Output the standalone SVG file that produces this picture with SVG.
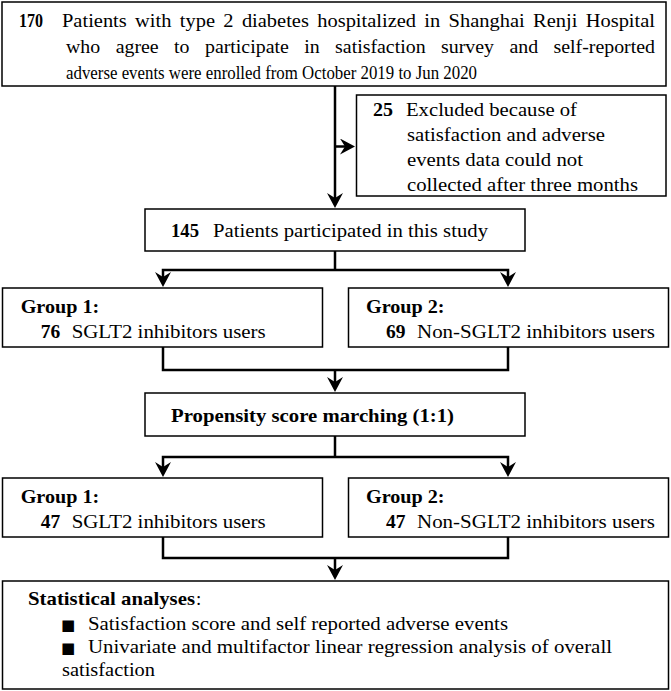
<svg xmlns="http://www.w3.org/2000/svg" width="671" height="691" viewBox="0 0 671 691">
<style>
.box{fill:#fff;stroke:#000;stroke-width:1.5}
.conn{fill:none;stroke:#000;stroke-width:2.5}
.t{font-family:'Liberation Serif','Times New Roman',serif;font-size:19px;fill:#000}
.b{font-weight:bold}
.sq{font-family:'DejaVu Sans',sans-serif;font-size:15px;fill:#000}
</style>
<defs>
<marker id="arr" markerUnits="userSpaceOnUse" markerWidth="15" markerHeight="16" refX="9" refY="8" orient="auto" viewBox="0 0 15 16">
<path d="M0,0 L15,8 L0,16 L5,8 Z" fill="#000"/>
</marker>
</defs>
<rect width="671" height="691" fill="#fff"/>
<g id="connectors">
<path class="conn" d="M335,86 V202" marker-end="url(#arr)"/>
<path class="conn" d="M335,146.5 H349" marker-end="url(#arr)"/>
<path class="conn" d="M335,251 V270"/>
<path class="conn" d="M335,270 H163 V281" marker-end="url(#arr)"/>
<path class="conn" d="M335,270 H508 V281" marker-end="url(#arr)"/>
<path class="conn" d="M163,347 V370 H508 V347"/>
<path class="conn" d="M335,370 V386" marker-end="url(#arr)"/>
<path class="conn" d="M335,436 V457"/>
<path class="conn" d="M335,457 H163 V471" marker-end="url(#arr)"/>
<path class="conn" d="M335,457 H508 V471" marker-end="url(#arr)"/>
<path class="conn" d="M163,537 V558 H508 V537"/>
<path class="conn" d="M335,558 V574" marker-end="url(#arr)"/>
</g>
<g id="enrolled">
<rect class="box" x="2" y="2" width="664" height="84"/>
<text class="t b" x="19" y="27" textLength="24" lengthAdjust="spacingAndGlyphs">170</text>
<text class="t" x="62" y="27" word-spacing="3" textLength="593" lengthAdjust="spacingAndGlyphs">Patients with type 2 diabetes hospitalized in Shanghai Renji Hospital</text>
<text class="t" x="66" y="53" word-spacing="10" textLength="589" lengthAdjust="spacingAndGlyphs">who agree to participate in satisfaction survey and self-reported</text>
<text class="t" x="66" y="79" textLength="411" lengthAdjust="spacingAndGlyphs">adverse events were enrolled from October 2019 to Jun 2020</text>
</g>
<g id="excluded">
<rect class="box" x="356.5" y="95" width="309.5" height="101"/>
<text class="t b" x="373" y="116" textLength="20" lengthAdjust="spacingAndGlyphs">25</text>
<text class="t" x="406" y="116" textLength="171" lengthAdjust="spacingAndGlyphs">Excluded because of</text>
<text class="t" x="407" y="141" textLength="198" lengthAdjust="spacingAndGlyphs">satisfaction and adverse</text>
<text class="t" x="407" y="166" textLength="176" lengthAdjust="spacingAndGlyphs">events data could not</text>
<text class="t" x="407" y="191" textLength="231" lengthAdjust="spacingAndGlyphs">collected after three months</text>
</g>
<g id="participated">
<rect class="box" x="145" y="209" width="380" height="42"/>
<text class="t b" x="171" y="237" textLength="28" lengthAdjust="spacingAndGlyphs">145</text>
<text class="t" x="213" y="237" textLength="275" lengthAdjust="spacingAndGlyphs">Patients participated in this study</text>
</g>
<g id="group1-before">
<rect class="box" x="2.5" y="288" width="320" height="59"/>
<text class="t b" x="20.7" y="313" textLength="78.6" lengthAdjust="spacingAndGlyphs">Group 1:</text>
<text class="t b" x="40.7" y="338" textLength="19.5" lengthAdjust="spacingAndGlyphs">76</text>
<text class="t" x="71.7" y="338" textLength="194" lengthAdjust="spacingAndGlyphs">SGLT2 inhibitors users</text>
</g>
<g id="group2-before">
<rect class="box" x="348.5" y="288" width="320" height="59"/>
<text class="t b" x="366" y="313" textLength="78.6" lengthAdjust="spacingAndGlyphs">Group 2:</text>
<text class="t b" x="386" y="338" textLength="19.5" lengthAdjust="spacingAndGlyphs">69</text>
<text class="t" x="417" y="338" textLength="238" lengthAdjust="spacingAndGlyphs">Non-SGLT2 inhibitors users</text>
</g>
<g id="psm">
<rect class="box" x="145" y="393" width="380" height="43"/>
<text class="t b" x="171" y="422" textLength="283" lengthAdjust="spacingAndGlyphs">Propensity score marching (1:1)</text>
</g>
<g id="group1-after">
<rect class="box" x="2.5" y="478" width="320" height="59"/>
<text class="t b" x="20.7" y="503" textLength="78.6" lengthAdjust="spacingAndGlyphs">Group 1:</text>
<text class="t b" x="40.7" y="528" textLength="19.5" lengthAdjust="spacingAndGlyphs">47</text>
<text class="t" x="71.7" y="528" textLength="194" lengthAdjust="spacingAndGlyphs">SGLT2 inhibitors users</text>
</g>
<g id="group2-after">
<rect class="box" x="348.5" y="478" width="320" height="59"/>
<text class="t b" x="366" y="503" textLength="78.6" lengthAdjust="spacingAndGlyphs">Group 2:</text>
<text class="t b" x="386" y="528" textLength="19.5" lengthAdjust="spacingAndGlyphs">47</text>
<text class="t" x="417" y="528" textLength="238" lengthAdjust="spacingAndGlyphs">Non-SGLT2 inhibitors users</text>
</g>
<g id="analyses">
<rect class="box" x="2.5" y="581" width="666" height="108"/>
<text class="t b" x="28" y="605" textLength="167" lengthAdjust="spacingAndGlyphs">Statistical analyses</text>
<text class="t" x="196" y="605">:</text>
<text class="sq" x="61" y="630">■</text>
<text class="t" x="88" y="630" textLength="420" lengthAdjust="spacingAndGlyphs">Satisfaction score and self reported adverse events</text>
<text class="sq" x="61" y="653">■</text>
<text class="t" x="88" y="653" textLength="524" lengthAdjust="spacingAndGlyphs">Univariate and multifactor linear regression analysis of overall</text>
<text class="t" x="62" y="676" textLength="93" lengthAdjust="spacingAndGlyphs">satisfaction</text>
</g>
</svg>
